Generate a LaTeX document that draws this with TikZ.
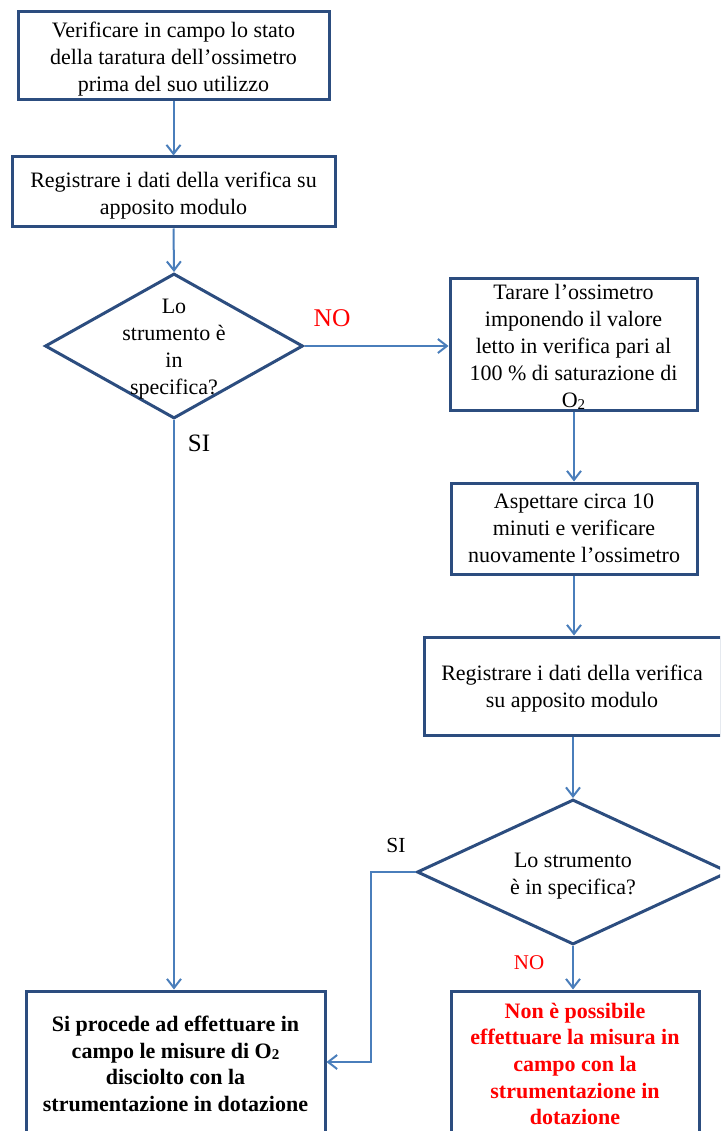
\documentclass[tikz,border=0pt]{standalone}
\usepackage{fontspec}
\setmainfont{Liberation Serif}
\usetikzlibrary{shapes.geometric,arrows.meta}
\definecolor{boxblue}{HTML}{2C4D7F}
\definecolor{arrblue}{HTML}{4A7EBB}
\definecolor{nored}{HTML}{FF0000}
\newcommand{\lowtwo}{\raisebox{-1.5pt}{\fontsize{15}{15}\selectfont 2}}
\tikzset{
  box/.style={draw=boxblue, line width=3pt, rectangle, inner sep=0pt},
  dia/.style={draw=boxblue, line width=3pt, diamond, inner sep=0pt},
  txt/.style={align=center, font=\fontsize{22}{27}\selectfont, inner sep=0pt},
  boldtxt/.style={txt, font=\fontsize{22}{26.7}\selectfont\bfseries},
  arr/.style={draw=arrblue, line width=2pt, -{Straight Barb[length=9pt,width=14pt]}},
  lbl/.style={inner sep=0pt},
}
\begin{document}
\begin{tikzpicture}[x=1pt,y=-1pt]
\useasboundingbox (0,0) rectangle (720,1131);
\clip (0,0) rectangle (720,1131);
% boxes
\node[box, minimum width=311pt, minimum height=88pt] (b1) at (173.5,55.5) {};
\node[txt] (b1t) at (173.5,59.5) {Verificare in campo lo stato\\della taratura dell’ossimetro\\prima del suo utilizzo};
\node[box, minimum width=323pt, minimum height=70pt] (b2) at (173.5,192) {};
\node[txt] (b2t) at (173.5,195.5) {Registrare i dati della verifica su\\apposito modulo};
\node[dia, minimum width=258pt, minimum height=145pt] (d1) at (174,346) {};
\node[txt] (d1t) at (174,349) {Lo\\strumento è\\in\\specifica?};
\node[box, minimum width=247pt, minimum height=131pt] (b3) at (573.5,344.5) {};
\node[txt] (b3t) at (573.5,347) {Tarare l’ossimetro\\imponendo il valore\\letto in verifica pari al\\100 \% di saturazione di\\O\lowtwo};
\node[box, minimum width=246pt, minimum height=91pt] (b4) at (574,528.5) {};
\node[txt] (b4t) at (574,528) {Aspettare circa 10\\minuti e verificare\\nuovamente l’ossimetro};
\node[box, minimum width=297pt, minimum height=98pt] (b5) at (573,686) {};
\node[txt] (b5t) at (572,689) {Registrare i dati della verifica\\su apposito modulo};
\node[dia, minimum width=312pt, minimum height=145pt] (d2) at (573,872) {};
\node[txt] (d2t) at (573,876) {Lo strumento\\è in specifica?};
\node[box, minimum width=299pt, minimum height=142pt] (b6) at (175.5,1062) {};
\node[boldtxt] (b6t) at (175.5,1064) {Si procede ad effettuare in\\campo le misure di O\lowtwo\\disciolto con la\\strumentazione in dotazione};
\node[box, minimum width=248pt, minimum height=142pt] (b7) at (575,1062) {};
\node[boldtxt, text=nored] (b7t) at (575,1064) {Non è possibile\\effettuare la misura in\\campo con la\\strumentazione in\\dotazione};
% labels
\node[lbl, text=nored, font=\fontsize{25.5}{30}\selectfont] (no1) at (332,318) {NO};
\node[lbl, font=\fontsize{25}{30}\selectfont] (si1) at (199,443) {SI};
\node[lbl, font=\fontsize{21.5}{26}\selectfont] (si2) at (396,845.5) {SI};
\node[lbl, text=nored, font=\fontsize{21}{25}\selectfont] (no2) at (529,962.5) {NO};
% connectors
\draw[arr] (b1.south) -- (b2.north);
\draw[arr] (b2.south) -- (d1.north);
\draw[arr] (d1.east) -- (d1.east -| b3.west);
\draw[arr] (b3.south -| b4.north) -- (b4.north);
\draw[arr] (b4.south) -- (b4.south |- b5.north);
\draw[arr] (b5.south) -- (d2.north);
\draw[arr] (d1.south) -- (d1.south |- b6.north);
\draw[arr] (d2.west) -- ++(-45,0) |- (b6.east);
\draw[arr] (d2.south) -- (d2.south |- b7.north);
\end{tikzpicture}
\end{document}
